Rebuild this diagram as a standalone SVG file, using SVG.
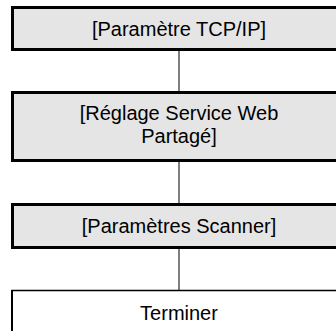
<svg xmlns="http://www.w3.org/2000/svg" width="336" height="331" viewBox="0 0 336 331">
<style>
.box{fill:#e5e5e5;stroke:#000;stroke-width:3}
.end{fill:#fff;stroke:#000;stroke-width:1.5}
.lbl{font-family:"Liberation Sans",Arial,sans-serif;font-size:20px;fill:#000;text-anchor:middle}
.conn{stroke:#000;stroke-width:1;fill:none}
</style>
<rect width="336" height="331" fill="#fff"/>
<g id="connectors">
<line class="conn" x1="179" y1="51" x2="179" y2="91"/>
<line class="conn" x1="179" y1="162" x2="179" y2="203"/>
<line class="conn" x1="179" y1="249" x2="179" y2="290"/>
</g>
<g id="n1">
<rect class="box" x="12.5" y="7.5" width="340" height="42"/>
<text class="lbl" x="179" y="35.5">[Paramètre TCP/IP]</text>
</g>
<g id="n2">
<rect class="box" x="12.5" y="92.5" width="340" height="68"/>
<text class="lbl" x="179" y="120">[Réglage Service Web</text>
<text class="lbl" x="179" y="143">Partagé]</text>
</g>
<g id="n3">
<rect class="box" x="12.5" y="204.5" width="340" height="43"/>
<text class="lbl" x="179" y="233">[Paramètres Scanner]</text>
</g>
<g id="n4">
<rect class="end" x="12" y="290.5" width="340" height="60"/>
<line x1="12" y1="290" x2="12" y2="331" stroke="#000" stroke-width="2"/>
<text class="lbl" x="179" y="320">Terminer</text>
</g>
</svg>
